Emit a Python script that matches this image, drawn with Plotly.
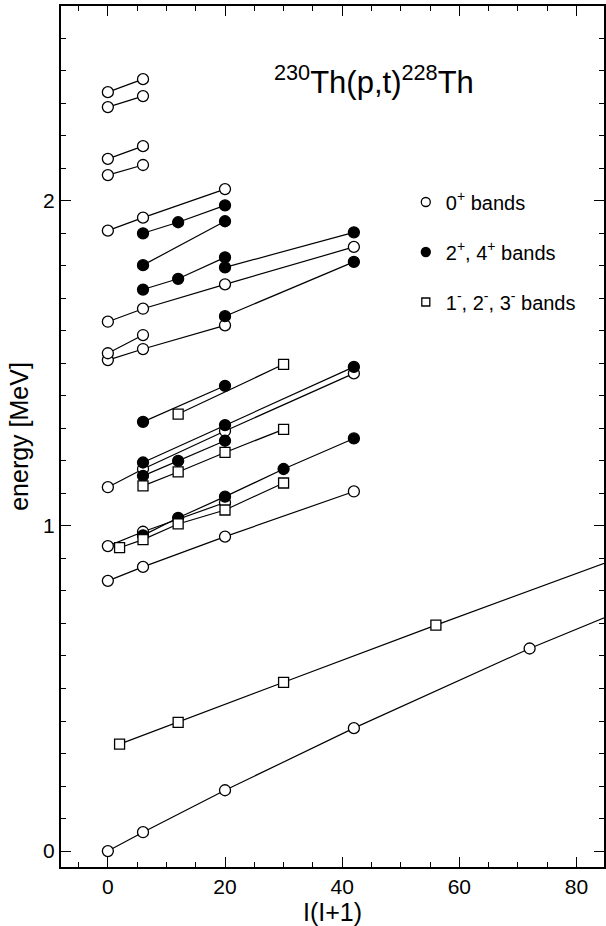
import plotly.graph_objects as go

# ---------------- data: x = I(I+1), energies in MeV ----------------
# 0+ bands (open circles)
gsb_x = [0, 6, 20, 42, 72, 110]
gsb_e = [0.0, 0.058, 0.187, 0.378, 0.623, 0.905]
b831_x = [0, 6, 20, 42]
b831_e = [0.831, 0.874, 0.967, 1.106]
b938_x = [0, 6, 20]
b938_e = [0.938, 0.982, 1.072]
b1119_x = [0, 6, 20, 42]
b1119_e = [1.119, 1.175, 1.292, 1.469]
b1510_x = [0, 6, 20]
b1510_e = [1.510, 1.544, 1.617]
b1531_x = [0, 6]
b1531_e = [1.531, 1.587]
b1628_x = [0, 6, 20, 42]
b1628_e = [1.628, 1.668, 1.743, 1.858]
b1908_x = [0, 6, 20]
b1908_e = [1.908, 1.948, 2.036]
b2079_x = [0, 6]
b2079_e = [2.079, 2.110]
b2129_x = [0, 6]
b2129_e = [2.129, 2.168]
b2288_x = [0, 6]
b2288_e = [2.288, 2.322]
b2334_x = [0, 6]
b2334_e = [2.334, 2.374]

# 2+, 4+ bands (filled circles)
g971_x = [6, 12, 20, 30, 42]
g971_e = [0.971, 1.025, 1.090, 1.175, 1.269]
g1154_x = [6, 12, 20]
g1154_e = [1.154, 1.200, 1.262]
g1195_x = [6, 20, 42]
g1195_e = [1.195, 1.310, 1.489]
g1320_x = [6, 20]
g1320_e = [1.320, 1.431]
g1645_x = [20, 42]
g1645_e = [1.645, 1.812]
g1727_x = [6, 12, 20]
g1727_e = [1.727, 1.760, 1.826]
g1795_x = [20, 42]
g1795_e = [1.795, 1.903]
g1802_x = [6, 20]
g1802_e = [1.802, 1.937]
g1900_x = [6, 12, 20]
g1900_e = [1.900, 1.934, 1.986]

# 1-, 2-, 3- bands (open squares)
oct_x = [2, 12, 30, 56, 90]
oct_e = [0.329, 0.396, 0.519, 0.695, 0.920]
n933_x = [2, 6, 12, 20, 30]
n933_e = [0.933, 0.958, 1.006, 1.049, 1.132]
n1123_x = [6, 12, 20, 30]
n1123_e = [1.123, 1.166, 1.226, 1.297]
n1344_x = [12, 30]
n1344_e = [1.344, 1.497]

open_bands = [(gsb_x, gsb_e), (b831_x, b831_e), (b938_x, b938_e), (b1119_x, b1119_e),
              (b1510_x, b1510_e), (b1531_x, b1531_e), (b1628_x, b1628_e), (b1908_x, b1908_e),
              (b2079_x, b2079_e), (b2129_x, b2129_e), (b2288_x, b2288_e), (b2334_x, b2334_e)]
filled_bands = [(g971_x, g971_e), (g1154_x, g1154_e), (g1195_x, g1195_e), (g1320_x, g1320_e),
                (g1645_x, g1645_e), (g1727_x, g1727_e), (g1795_x, g1795_e), (g1802_x, g1802_e),
                (g1900_x, g1900_e)]
square_bands = [(oct_x, oct_e), (n933_x, n933_e), (n1123_x, n1123_e), (n1344_x, n1344_e)]

legend_names = ["0<sup>+</sup> bands", "2<sup>+</sup>, 4<sup>+</sup> bands",
                "1<sup>-</sup>, 2<sup>-</sup>, 3<sup>-</sup> bands"]

x_ticks = [0, 20, 40, 60, 80]
y_ticks = [0, 1, 2]

FONT = "Liberation Sans, Arial, sans-serif"

styles = {
    "open": dict(symbol="circle", color="white", line=dict(color="black", width=1.3), size=11),
    "filled": dict(symbol="circle", color="black", line=dict(color="black", width=1.3), size=11),
    "square": dict(symbol="square", color="white", line=dict(color="black", width=1.3), size=10),
}
groups = [("open", open_bands), ("filled", filled_bands), ("square", square_bands)]

fig = go.Figure()

# lines first (under all markers)
for kind, bands in groups:
    for bx, be in bands:
        fig.add_trace(go.Scatter(x=bx, y=be, mode="lines", line=dict(color="black", width=1.2),
                                 showlegend=False, hoverinfo="skip", cliponaxis=True))
# markers
for kind, bands in groups:
    for bx, be in bands:
        fig.add_trace(go.Scatter(x=bx, y=be, mode="markers", marker=styles[kind],
                                 showlegend=False, cliponaxis=True))

# legend-only entries
for (kind, _), name in zip(groups, legend_names):
    st = dict(styles[kind])
    st["size"] = 9 if kind != "square" else 8
    fig.add_trace(go.Scatter(x=[None], y=[None], mode="markers", marker=st, name=name,
                             legendgroup=kind, showlegend=True))

axis_common = dict(
    showline=True, linecolor="black", linewidth=2, mirror="allticks",
    ticks="inside", ticklen=10, tickwidth=1.3, tickcolor="black",
    showgrid=False, zeroline=False,
    tickfont=dict(family=FONT, size=21, color="black"),
)

fig.update_layout(
    width=606, height=926,
    margin=dict(l=61, r=0, t=6, b=59),
    paper_bgcolor="white", plot_bgcolor="white",
    font=dict(family=FONT, color="black"),
    xaxis=dict(range=[-8, 84.7], tickvals=x_ticks,
               minor=dict(dtick=5, ticks="inside", ticklen=5, tickcolor="black", tickwidth=1.2),
               title=dict(text="I(I+1)", font=dict(family=FONT, size=25), standoff=2),
               **axis_common),
    yaxis=dict(range=[-0.049, 2.599], tickvals=y_ticks,
               minor=dict(dtick=0.1, ticks="inside", ticklen=5, tickcolor="black", tickwidth=1.2),
               title=dict(text="energy [MeV]", font=dict(family=FONT, size=25), standoff=7),
               **axis_common),
    legend=dict(x=0.635, y=0.795, xanchor="left", yanchor="top", bgcolor="rgba(0,0,0,0)",
                font=dict(family=FONT, size=20, color="black"), tracegroupgap=21,
                itemsizing="trace"),
    annotations=[dict(
        text="<sup>230</sup>Th(p,t)<sup>228</sup>Th", xref="paper", yref="paper",
        x=0.389, y=0.914, xanchor="left", yanchor="middle", showarrow=False,
        font=dict(family=FONT, size=31, color="black"))],
)

fig.write_html("out.html", config={"displayModeBar": False},
               post_script="document.body.style.margin='0px';document.body.style.overflow='hidden';")
